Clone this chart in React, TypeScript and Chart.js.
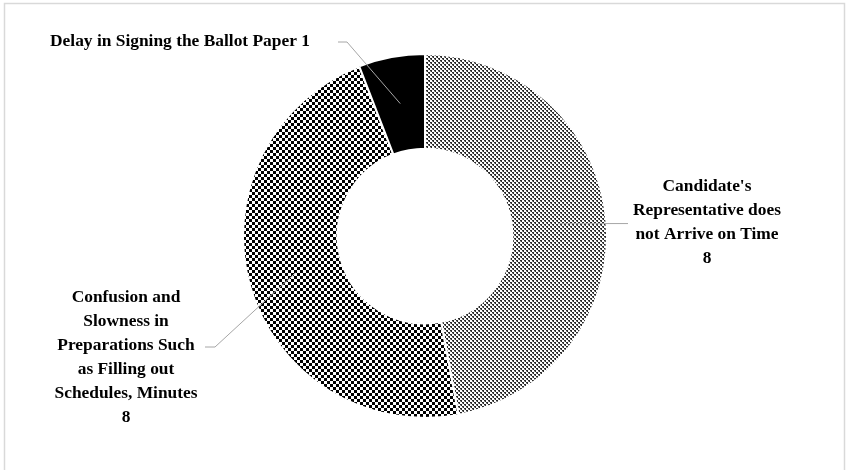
import React, { useEffect, useRef } from "react";
import { Chart, registerables } from "chart.js";

Chart.register(...registerables);

const categories = [
  "Candidate's Representative does not Arrive on Time",
  "Confusion and Slowness in Preparations Such as Filling out Schedules, Minutes",
  "Delay in Signing the Ballot Paper",
];
const values = [8, 8, 1];
// wrapped label text (category lines); value appended per label style
const labelLines = [
  ["Candidate's", "Representative does", "not Arrive on Time"],
  ["Confusion and", "Slowness in", "Preparations Such", "as Filling out", "Schedules, Minutes"],
  ["Delay in Signing the Ballot Paper"],
];
const valueInline = [false, false, true];

// label layout relative to doughnut centre
const labelLayout = [
  { tx: 282, ty: -49, path: [[203, null]] },
  { tx: -299, ty: 62, path: [[-210, 111], [-220, 111]] },
  { tx: -245, ty: -194, path: [[-78, -194], [-87, -194]] },
];

function makeDotPattern(ctx: CanvasRenderingContext2D) {
  const c = document.createElement("canvas");
  c.width = 4;
  c.height = 4;
  const g = c.getContext("2d")!;
  g.fillStyle = "#ffffff";
  g.fillRect(0, 0, 4, 4);
  g.fillStyle = "#2a2a2a";
  g.fillRect(0, 0, 2, 1);
  g.fillRect(1, 1, 1, 1);
  g.fillRect(2, 2, 2, 1);
  g.fillRect(3, 3, 1, 1);
  g.fillStyle = "#9a9a9a";
  g.fillRect(0, 1, 1, 1);
  g.fillRect(2, 3, 1, 1);
  return ctx.createPattern(c, "repeat")!;
}

function makeCheckPattern(ctx: CanvasRenderingContext2D) {
  const c = document.createElement("canvas");
  const s = 3;
  c.width = s * 2;
  c.height = s * 2;
  const g = c.getContext("2d")!;
  g.fillStyle = "#ffffff";
  g.fillRect(0, 0, s * 2, s * 2);
  g.fillStyle = "#000000";
  g.fillRect(0, 0, s, s);
  g.fillRect(s, s, s, s);
  return ctx.createPattern(c, "repeat")!;
}

const framePlugin = {
  id: "frame",
  beforeDraw(chart: any) {
    const ctx = chart.ctx;
    ctx.save();
    ctx.fillStyle = "#ffffff";
    ctx.fillRect(0, 0, chart.width, chart.height);
    ctx.strokeStyle = "#d9d9d9";
    ctx.lineWidth = 1.5;
    ctx.strokeRect(4.5, 3.5, chart.width - 8, chart.height + 10);
    ctx.restore();
  },
};

const labelPlugin = {
  id: "leaderLabels",
  afterDraw(chart: any) {
    const ctx = chart.ctx;
    const meta = chart.getDatasetMeta(0);
    const font = 'bold 17.4px "Liberation Serif", "Times New Roman", serif';
    const lineH = 24;
    meta.data.forEach((arc: any, i: number) => {
      const p = arc.getProps(["x", "y", "startAngle", "endAngle", "innerRadius", "outerRadius"], true);
      const mid = (p.startAngle + p.endAngle) / 2;
      const r = (p.innerRadius + p.outerRadius) / 2;
      const sx = p.x + r * Math.cos(mid);
      const sy = p.y + r * Math.sin(mid);
      const lay = labelLayout[i];
      ctx.save();
      ctx.strokeStyle = "#a6a6a6";
      ctx.lineWidth = 1;
      ctx.beginPath();
      ctx.moveTo(sx, sy);
      lay.path.forEach((pt: any) => {
        const px = p.x + pt[0];
        const py = pt[1] === null ? sy : p.y + pt[1];
        ctx.lineTo(px, py);
      });
      ctx.stroke();
      ctx.fillStyle = "#000000";
      ctx.font = font;
      ctx.textAlign = "center";
      ctx.textBaseline = "middle";
      const lines = labelLines[i].slice();
      if (valueInline[i]) {
        lines[lines.length - 1] = lines[lines.length - 1] + " " + values[i];
      } else {
        lines.push(String(values[i]));
      }
      lines.forEach((t, k) => {
        ctx.fillText(t, p.x + lay.tx, p.y + lay.ty + k * lineH);
      });
      ctx.restore();
    });
  },
};

export default function App() {
  const ref = useRef<HTMLCanvasElement>(null);
  useEffect(() => {
    document.body.style.margin = "0";
    const canvas = ref.current!;
    const ctx = canvas.getContext("2d")!;
    const chart = new Chart(canvas, {
      type: "doughnut",
      data: {
        labels: categories,
        datasets: [
          {
            data: values,
            backgroundColor: [makeDotPattern(ctx), makeCheckPattern(ctx), "#000000"],
            borderColor: "#ffffff",
            borderWidth: 2,
          },
        ],
      },
      options: {
        responsive: false,
        animation: false,
        cutout: "48%",
        layout: { padding: { top: 53, bottom: 51, left: 2, right: 0 } },
        plugins: {
          legend: { display: false },
          tooltip: { enabled: false },
        },
      },
      plugins: [framePlugin, labelPlugin],
    });
    return () => chart.destroy();
  }, []);
  return (
    <div style={{ width: 848, height: 470 }}>
      <canvas ref={ref} width={848} height={470} style={{ display: "block" }} />
    </div>
  );
}
